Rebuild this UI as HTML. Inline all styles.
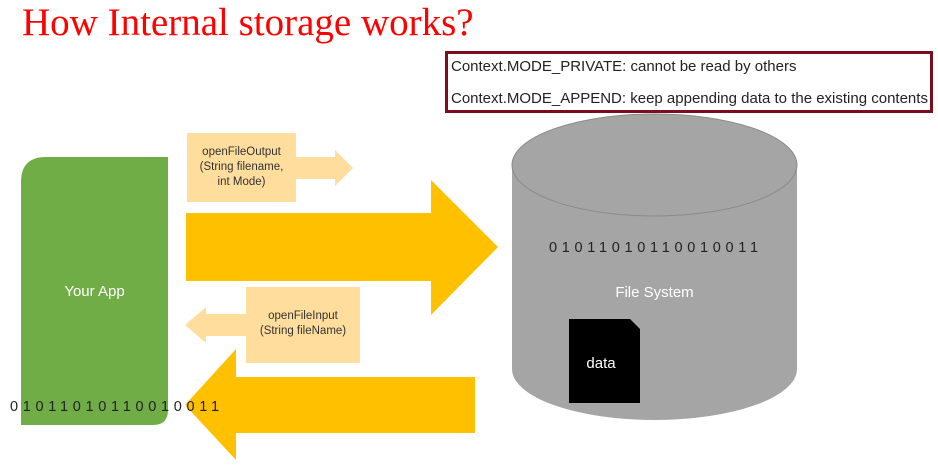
<!DOCTYPE html>
<html><head><style>
body{margin:0;width:938px;height:468px;background:#fff;position:relative;overflow:hidden;font-family:"Liberation Sans",sans-serif}
.a{position:absolute}
</style></head><body>
<div class="a" style="left:22px;top:0px;font-family:'Liberation Serif',serif;font-size:39px;color:#f00;white-space:nowrap">How Internal storage works?</div>
<div class="a" style="left:445px;top:51px;width:482px;height:56px;border:3px solid #7b0d1e;font-size:15px;color:#222;white-space:nowrap">
<div style="position:absolute;left:3px;top:4px">Context.MODE_PRIVATE: cannot be read by others</div>
<div style="position:absolute;left:3px;top:36px">Context.MODE_APPEND: keep appending data to the existing contents</div>
</div>
<svg class="a" style="left:0;top:0" width="938" height="468">
<path d="M46 157 H168 V410 Q168 425 153 425 H21 V182 Q21 157 46 157Z" fill="#70ad47"/>
<rect x="187" y="133" width="109" height="69" fill="#ffd78c" opacity=".85"/>
<polygon points="296,157 335,157 335,150 353,168 335,186 335,179 296,179" fill="#ffd78c" opacity=".85"/>
<polygon points="186,213 431,213 431,180 498,247 431,315 431,281 186,281" fill="#ffc000"/>
<rect x="246" y="287" width="114" height="76" fill="#ffd78c" opacity=".85"/>
<polygon points="246,314 206,314 206,307 185,325 206,343 206,336 246,336" fill="#ffd78c" opacity=".85"/>
<polygon points="475,377 236,377 236,349 185,405 236,460 236,433 475,433" fill="#ffc000"/>
<path d="M512 165 V369 A142.5 51 0 0 0 797 369 V165Z" fill="#a5a5a5"/>
<ellipse cx="654.5" cy="165" rx="142.5" ry="51" fill="#a5a5a5" stroke="#8a8a8a" stroke-width="1"/>
<polygon points="569,319 630,319 640,329 640,403 569,403" fill="#000"/>
</svg>
<div class="a" style="left:187px;top:145px;width:109px;text-align:center;font-size:11.5px;line-height:15px;color:#333">openFileOutput<br>(String filename,<br>int Mode)</div>
<div class="a" style="left:246px;top:309px;width:114px;text-align:center;font-size:11.5px;line-height:15px;color:#333">openFileInput<br>(String fileName)</div>
<div class="a" style="left:21px;top:283px;width:147px;text-align:center;font-size:15px;color:#fff">Your App</div>
<div class="a" style="left:512px;top:284px;width:285px;text-align:center;font-size:15px;color:#fff">File System</div>
<div class="a" style="left:569px;top:355px;width:64px;text-align:center;font-size:15px;color:#fff">data</div>
<div class="a" style="left:549px;top:240px;font-size:14.5px;letter-spacing:4.7px;color:#222">01011010110010011</div>
<div class="a" style="left:10px;top:399px;font-size:14.5px;letter-spacing:4.7px;color:#222">01011010110010011</div>
</body></html>
